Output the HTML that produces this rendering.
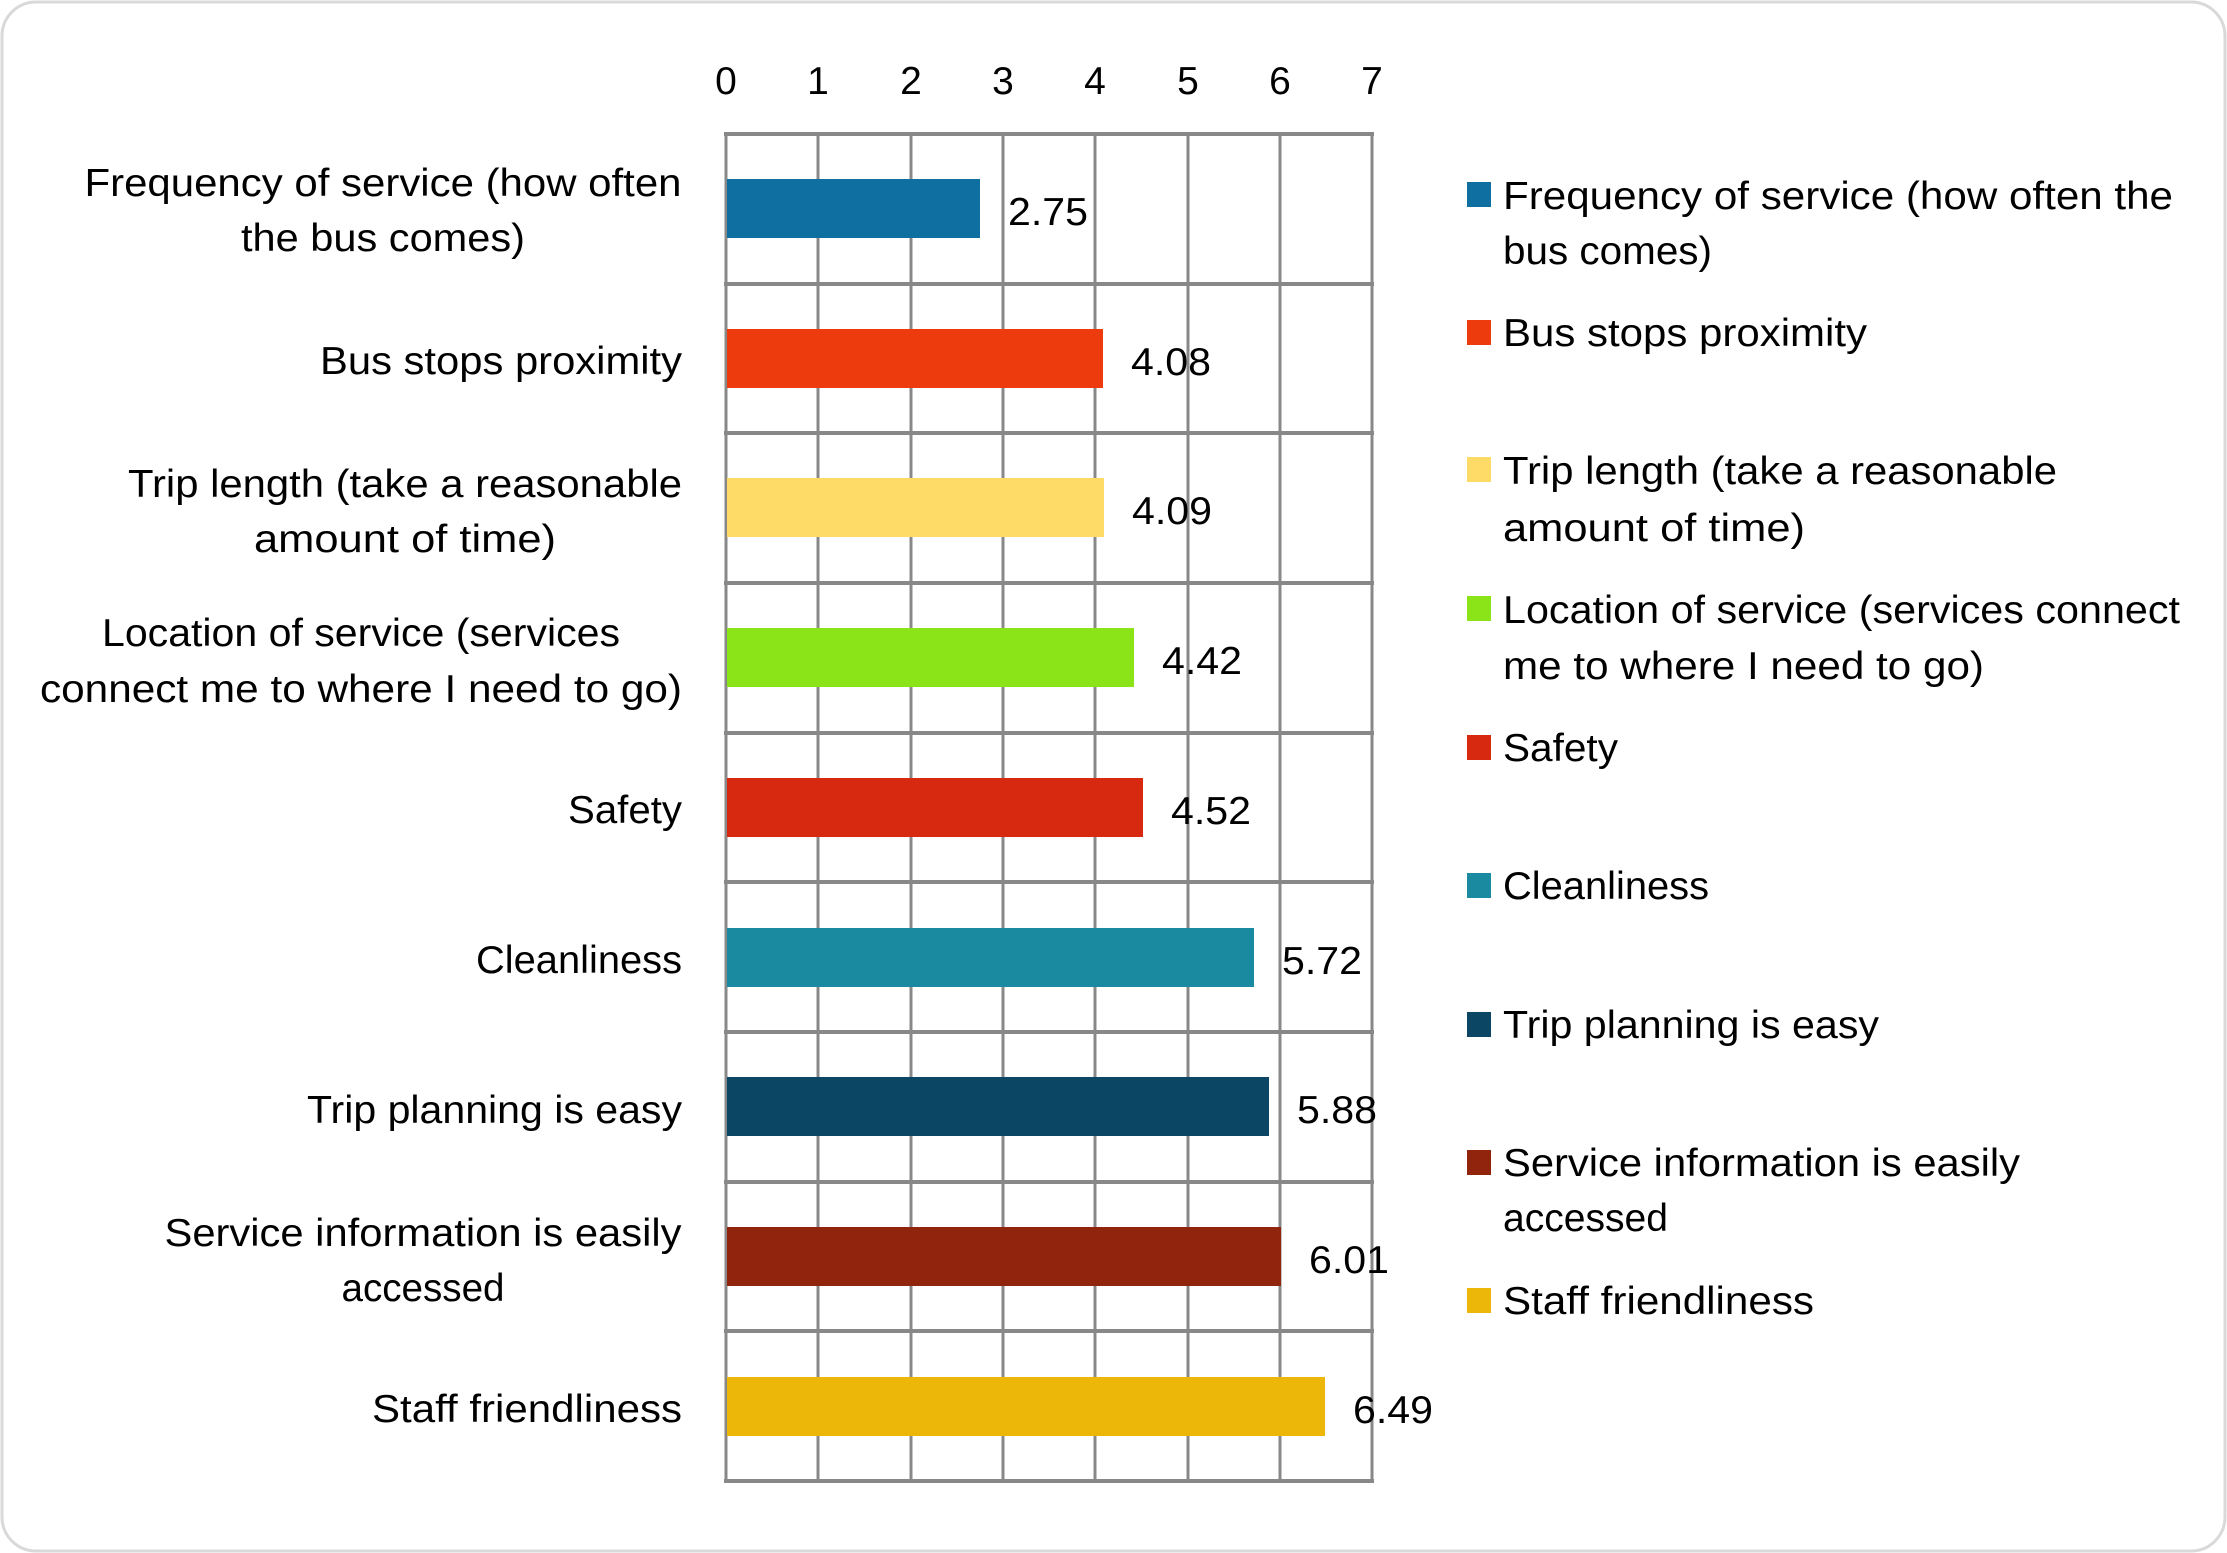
<!DOCTYPE html>
<html><head><meta charset="utf-8"><style>
html,body{margin:0;padding:0;background:#fff;}
svg{display:block;}
text{font-family:"Liberation Sans",sans-serif;font-size:39px;fill:#000;}
</style></head><body>
<svg width="2227" height="1553" viewBox="0 0 2227 1553" xmlns="http://www.w3.org/2000/svg">
<rect x="2" y="2" width="2223" height="1549" rx="34" ry="34" fill="#fff" stroke="#d9d9d9" stroke-width="3"/>
<g stroke="#888" stroke-width="3">
<line x1="726" y1="133" x2="726" y2="1482"/>
<line x1="818" y1="133" x2="818" y2="1482"/>
<line x1="911" y1="133" x2="911" y2="1482"/>
<line x1="1003" y1="133" x2="1003" y2="1482"/>
<line x1="1095" y1="133" x2="1095" y2="1482"/>
<line x1="1188" y1="133" x2="1188" y2="1482"/>
<line x1="1280" y1="133" x2="1280" y2="1482"/>
<line x1="1372" y1="133" x2="1372" y2="1482"/>
</g>
<g stroke="#888" stroke-width="4">
<line x1="724" y1="134" x2="1374" y2="134"/>
<line x1="724" y1="284" x2="1374" y2="284"/>
<line x1="724" y1="433" x2="1374" y2="433"/>
<line x1="724" y1="583" x2="1374" y2="583"/>
<line x1="724" y1="733" x2="1374" y2="733"/>
<line x1="724" y1="882" x2="1374" y2="882"/>
<line x1="724" y1="1032" x2="1374" y2="1032"/>
<line x1="724" y1="1182" x2="1374" y2="1182"/>
<line x1="724" y1="1331" x2="1374" y2="1331"/>
<line x1="724" y1="1481" x2="1374" y2="1481"/>
</g>
<g>
<rect x="727" y="179" width="253" height="59" fill="#0f6fa0"/>
<rect x="727" y="329" width="376" height="59" fill="#ee3b0e"/>
<rect x="727" y="478" width="377" height="59" fill="#fddb66"/>
<rect x="727" y="628" width="407" height="59" fill="#8ae417"/>
<rect x="727" y="778" width="416" height="59" fill="#d6290f"/>
<rect x="727" y="928" width="527" height="59" fill="#1a8aa0"/>
<rect x="727" y="1077" width="542" height="59" fill="#0b4664"/>
<rect x="727" y="1227" width="554" height="59" fill="#90240d"/>
<rect x="727" y="1377" width="598" height="59" fill="#edb70a"/>
</g>
<g text-anchor="middle">
<text x="726" y="94">0</text><text x="818" y="94">1</text><text x="911" y="94">2</text><text x="1003" y="94">3</text>
<text x="1095" y="94">4</text><text x="1188" y="94">5</text><text x="1280" y="94">6</text><text x="1372" y="94">7</text>
</g>
<g>
<text x="1008" y="225" textLength="80" lengthAdjust="spacingAndGlyphs">2.75</text>
<text x="1131" y="375" textLength="80" lengthAdjust="spacingAndGlyphs">4.08</text>
<text x="1132" y="524" textLength="80" lengthAdjust="spacingAndGlyphs">4.09</text>
<text x="1162" y="674" textLength="80" lengthAdjust="spacingAndGlyphs">4.42</text>
<text x="1171" y="824" textLength="80" lengthAdjust="spacingAndGlyphs">4.52</text>
<text x="1282" y="974" textLength="80" lengthAdjust="spacingAndGlyphs">5.72</text>
<text x="1297" y="1123" textLength="80" lengthAdjust="spacingAndGlyphs">5.88</text>
<text x="1309" y="1273" textLength="80" lengthAdjust="spacingAndGlyphs">6.01</text>
<text x="1353" y="1423" textLength="80" lengthAdjust="spacingAndGlyphs">6.49</text>
</g>
<g text-anchor="middle">
<text x="383" y="196" textLength="597" lengthAdjust="spacingAndGlyphs">Frequency of service (how often</text>
<text x="383" y="251" textLength="284" lengthAdjust="spacingAndGlyphs">the bus comes)</text>
<text x="405" y="497" textLength="554" lengthAdjust="spacingAndGlyphs">Trip length (take a reasonable</text>
<text x="405" y="552" textLength="302" lengthAdjust="spacingAndGlyphs">amount of time)</text>
<text x="361" y="646" textLength="518" lengthAdjust="spacingAndGlyphs">Location of service (services</text>
<text x="361" y="702" textLength="642" lengthAdjust="spacingAndGlyphs">connect me to where I need to go)</text>
<text x="423" y="1246" textLength="517" lengthAdjust="spacingAndGlyphs">Service information is easily</text>
<text x="423" y="1301" textLength="163" lengthAdjust="spacingAndGlyphs">accessed</text>
</g>
<g text-anchor="end">
<text x="682" y="374" textLength="362" lengthAdjust="spacingAndGlyphs">Bus stops proximity</text>
<text x="682" y="823" textLength="114" lengthAdjust="spacingAndGlyphs">Safety</text>
<text x="682" y="973" textLength="206" lengthAdjust="spacingAndGlyphs">Cleanliness</text>
<text x="682" y="1123" textLength="375" lengthAdjust="spacingAndGlyphs">Trip planning is easy</text>
<text x="682" y="1422" textLength="310" lengthAdjust="spacingAndGlyphs">Staff friendliness</text>
</g>
<g>
<rect x="1467" y="182" width="24" height="25" fill="#0f6fa0"/>
<rect x="1467" y="320" width="24" height="25" fill="#ee3b0e"/>
<rect x="1467" y="457" width="24" height="25" fill="#fddb66"/>
<rect x="1467" y="596" width="24" height="25" fill="#8ae417"/>
<rect x="1467" y="735" width="24" height="25" fill="#d6290f"/>
<rect x="1467" y="873" width="24" height="25" fill="#1a8aa0"/>
<rect x="1467" y="1012" width="24" height="25" fill="#0b4664"/>
<rect x="1467" y="1150" width="24" height="25" fill="#90240d"/>
<rect x="1467" y="1288" width="24" height="25" fill="#edb70a"/>
</g>
<g>
<text x="1503" y="209" textLength="670" lengthAdjust="spacingAndGlyphs">Frequency of service (how often the</text>
<text x="1503" y="264" textLength="209" lengthAdjust="spacingAndGlyphs">bus comes)</text>
<text x="1503" y="346" textLength="364" lengthAdjust="spacingAndGlyphs">Bus stops proximity</text>
<text x="1503" y="484" textLength="554" lengthAdjust="spacingAndGlyphs">Trip length (take a reasonable</text>
<text x="1503" y="541" textLength="302" lengthAdjust="spacingAndGlyphs">amount of time)</text>
<text x="1503" y="623" textLength="677" lengthAdjust="spacingAndGlyphs">Location of service (services connect</text>
<text x="1503" y="679" textLength="481" lengthAdjust="spacingAndGlyphs">me to where I need to go)</text>
<text x="1503" y="761" textLength="115" lengthAdjust="spacingAndGlyphs">Safety</text>
<text x="1503" y="899" textLength="206" lengthAdjust="spacingAndGlyphs">Cleanliness</text>
<text x="1503" y="1038" textLength="376" lengthAdjust="spacingAndGlyphs">Trip planning is easy</text>
<text x="1503" y="1176" textLength="517" lengthAdjust="spacingAndGlyphs">Service information is easily</text>
<text x="1503" y="1231" textLength="165" lengthAdjust="spacingAndGlyphs">accessed</text>
<text x="1503" y="1314" textLength="311" lengthAdjust="spacingAndGlyphs">Staff friendliness</text>
</g>
</svg>
</body></html>
